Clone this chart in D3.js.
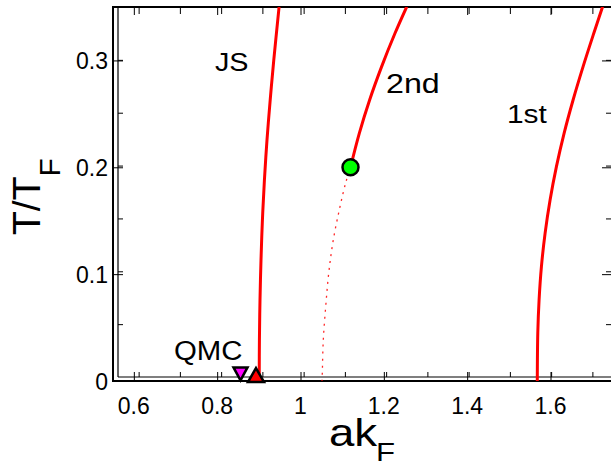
<!DOCTYPE html>
<html>
<head>
<meta charset="utf-8">
<script src="https://cdn.jsdelivr.net/npm/d3@7"></script>
<style>
  html, body { margin: 0; padding: 0; background: #fff; }
  svg { display: block; font-family: "Liberation Sans", Arial, sans-serif; }
</style>
</head>
<body>
<script>
// ---------------- data ----------------
const xDomain = [0.55, 1.75];
const yDomain = [0, 0.35];

const xMajorTicks = [0.6, 0.8, 1.0, 1.2, 1.4, 1.6];
const xMajorLabels = ["0.6", "0.8", "1", "1.2", "1.4", "1.6"];
const yMajorTicks = [0, 0.1, 0.2, 0.3];
const yMajorLabels = ["0", "0.1", "0.2", "0.3"];
const xMinorTicks = [0.6, 0.7, 0.8, 0.9, 1.0, 1.1, 1.2, 1.3, 1.4, 1.5, 1.6, 1.7];
const yMinorTicks = [0.05, 0.1, 0.15, 0.2, 0.25, 0.3];

// JS curve
const jsK = [0.9009, 0.9014, 0.9028, 0.9052, 0.9086, 0.9134, 0.9196, 0.9273, 0.9359, 0.9486];
const jsT = [0, 0.0384, 0.0758, 0.1133, 0.1507, 0.1881, 0.2256, 0.2630, 0.3005, 0.3501];

// 2nd order line (solid part above the end point)
const secondK = [1.12, 1.1411, 1.1659, 1.1947, 1.2268, 1.2549];
const secondT = [0.2000, 0.2318, 0.2630, 0.2942, 0.3254, 0.3502];

// 2nd order line continuation (dotted)
const secondDotK = [1.12, 1.1092, 1.0948, 1.0787, 1.0677, 1.0605, 1.0547, 1.0523, 1.0516];
const secondDotT = [0.2000, 0.1865, 0.1631, 0.1320, 0.1008, 0.0695, 0.0384, 0.0072, 0];

// 1st order line
const firstK = [1.5683, 1.5695, 1.5726, 1.5782, 1.5870, 1.5990, 1.6142, 1.6326, 1.6542, 1.6782, 1.7039, 1.7250];
const firstT = [0, 0.0449, 0.0758, 0.1070, 0.1382, 0.1694, 0.2006, 0.2318, 0.2630, 0.2942, 0.3254, 0.3503];

// markers
const endPoint = { k: 1.12, t: 0.2 };
const qmcPoint = { k: 0.856, t: 0.0066 };
const jsZeroPoint = { k: 0.8932, t: 0.0056 };

// ---------------- chart ----------------
const W = 611, H = 465;
const svg = d3.select("body").append("svg").attr("width", W).attr("height", H);

const x = d3.scaleLinear().domain(xDomain).range([113, 613]);
const y = d3.scaleLinear().domain(yDomain).range([381, 7]);
// inner (shifted) frame
const x2 = d3.scaleLinear().domain(xDomain).range([118, 613]);
const y2 = d3.scaleLinear().domain(yDomain).range([377, 7]);

svg.append("defs").append("clipPath").attr("id", "plotclip")
  .append("rect").attr("x", 113).attr("y", 7).attr("width", 500).attr("height", 374);

function styleAxis(g) {
  g.select(".domain").remove();
  g.selectAll(".tick line").attr("stroke", "#000").attr("stroke-width", 1);
  g.selectAll(".tick text").remove();
}

// main frame ticks (inward)
svg.append("g").attr("transform", "translate(0,381)")
  .call(d3.axisTop(x).tickValues(xMajorTicks).tickSize(9).tickSizeOuter(0)).call(styleAxis);
svg.append("g").attr("transform", "translate(0,7)")
  .call(d3.axisBottom(x).tickValues(xMajorTicks).tickSize(8).tickSizeOuter(0)).call(styleAxis);
svg.append("g").attr("transform", "translate(113,0)")
  .call(d3.axisRight(y).tickValues(yMajorTicks).tickSize(10).tickSizeOuter(0)).call(styleAxis);
svg.append("g").attr("transform", "translate(612,0)")
  .call(d3.axisLeft(y).tickValues(yMajorTicks).tickSize(10).tickSizeOuter(0)).call(styleAxis);

// inner frame ticks
svg.append("g").attr("transform", "translate(0,377)")
  .call(d3.axisTop(x2).tickValues(xMinorTicks).tickSize(5).tickSizeOuter(0)).call(styleAxis);
svg.append("g").attr("transform", "translate(0,7)")
  .call(d3.axisBottom(x2).tickValues(xMinorTicks).tickSize(7).tickSizeOuter(0)).call(styleAxis);
svg.append("g").attr("transform", "translate(118,0)")
  .call(d3.axisRight(y2).tickValues(yMinorTicks).tickSize(5).tickSizeOuter(0)).call(styleAxis);
svg.append("g").attr("transform", "translate(612,0)")
  .call(d3.axisLeft(y2).tickValues(yMinorTicks).tickSize(6).tickSizeOuter(0)).call(styleAxis);

// frame lines
svg.append("line").attr("x1", 113).attr("x2", 613).attr("y1", 381).attr("y2", 381).attr("stroke", "#000").attr("stroke-width", 2);
svg.append("line").attr("x1", 113).attr("x2", 113).attr("y1", 6).attr("y2", 382).attr("stroke", "#000").attr("stroke-width", 2);
svg.append("line").attr("x1", 113).attr("x2", 613).attr("y1", 7).attr("y2", 7).attr("stroke", "#000").attr("stroke-width", 2);
svg.append("line").attr("x1", 118).attr("x2", 613).attr("y1", 377).attr("y2", 377).attr("stroke", "#000").attr("stroke-width", 1.2);
svg.append("line").attr("x1", 118).attr("x2", 118).attr("y1", 7).attr("y2", 377).attr("stroke", "#000").attr("stroke-width", 1.2);

// tick labels
svg.append("g").selectAll("text").data(xMajorTicks).join("text")
  .attr("x", d => x(d)).attr("y", 414)
  .attr("text-anchor", "middle").attr("font-size", 23).attr("fill", "#000")
  .text((d, i) => xMajorLabels[i]);
svg.append("g").selectAll("text").data(yMajorTicks).join("text")
  .attr("x", 108).attr("y", d => y(d) + 8.5)
  .attr("text-anchor", "end").attr("font-size", 23).attr("fill", "#000")
  .text((d, i) => yMajorLabels[i]);

// curves
const plot = svg.append("g").attr("clip-path", "url(#plotclip)");
const line = d3.line().x(d => x(d[0])).y(d => y(d[1])).curve(d3.curveCatmullRom.alpha(0.5));
const zip = (a, b) => a.map((v, i) => [v, b[i]]);

plot.append("path").attr("d", line(zip(secondDotK, secondDotT)))
  .attr("fill", "none").attr("stroke", "#ff0000").attr("stroke-width", 1.3)
  .attr("stroke-dasharray", "2,5").attr("stroke-dashoffset", -12).attr("opacity", 0.85);
plot.append("path").attr("d", line(zip(jsK, jsT)))
  .attr("fill", "none").attr("stroke", "#ff0000").attr("stroke-width", 3);
plot.append("path").attr("d", line(zip(secondK, secondT)))
  .attr("fill", "none").attr("stroke", "#ff0000").attr("stroke-width", 3);
plot.append("path").attr("d", line(zip(firstK, firstT)))
  .attr("fill", "none").attr("stroke", "#ff0000").attr("stroke-width", 3);

// markers
function tri(w, h, up) {
  return up
    ? `M0,${-h / 2}L${w / 2},${h / 2}L${-w / 2},${h / 2}Z`
    : `M0,${h / 2}L${w / 2},${-h / 2}L${-w / 2},${-h / 2}Z`;
}
svg.append("path").attr("d", tri(14, 13, false))
  .attr("transform", `translate(${x(qmcPoint.k)},${y(qmcPoint.t)})`)
  .attr("fill", "#ff00ff").attr("stroke", "#000").attr("stroke-width", 2.5);
svg.append("path").attr("d", tri(16, 14, true))
  .attr("transform", `translate(${x(jsZeroPoint.k)},${y(jsZeroPoint.t)})`)
  .attr("fill", "#ff0000").attr("stroke", "#000").attr("stroke-width", 2.5);
svg.append("circle").attr("cx", x(endPoint.k)).attr("cy", y(endPoint.t)).attr("r", 8)
  .attr("fill", "#00ff00").attr("stroke", "#000").attr("stroke-width", 2.5);

// labels
function label(txt, px, py, size, sx) {
  svg.append("text").attr("transform", `translate(${px},${py}) scale(${sx},1)`)
    .attr("font-size", size).attr("fill", "#000").text(txt);
}
label("JS", 215, 71, 25, 1.15);
label("2nd", 386, 93, 28, 1.15);
label("1st", 507, 123, 26, 1.15);
label("QMC", 174, 360, 28, 1.05);

// axis titles
const xt = svg.append("text").attr("transform", "translate(329,446) scale(1.2,1)")
  .attr("font-size", 38).attr("fill", "#000");
xt.append("tspan").text("ak");
xt.append("tspan").attr("font-size", 26).attr("dy", 15).attr("dx", -1).text("F");

const yt = svg.append("text").attr("transform", "translate(40,235) rotate(-90)")
  .attr("font-size", 39).attr("fill", "#000");
yt.append("tspan").text("T/T");
yt.append("tspan").attr("font-size", 30).attr("dy", 20).text("F");
</script>
</body>
</html>
